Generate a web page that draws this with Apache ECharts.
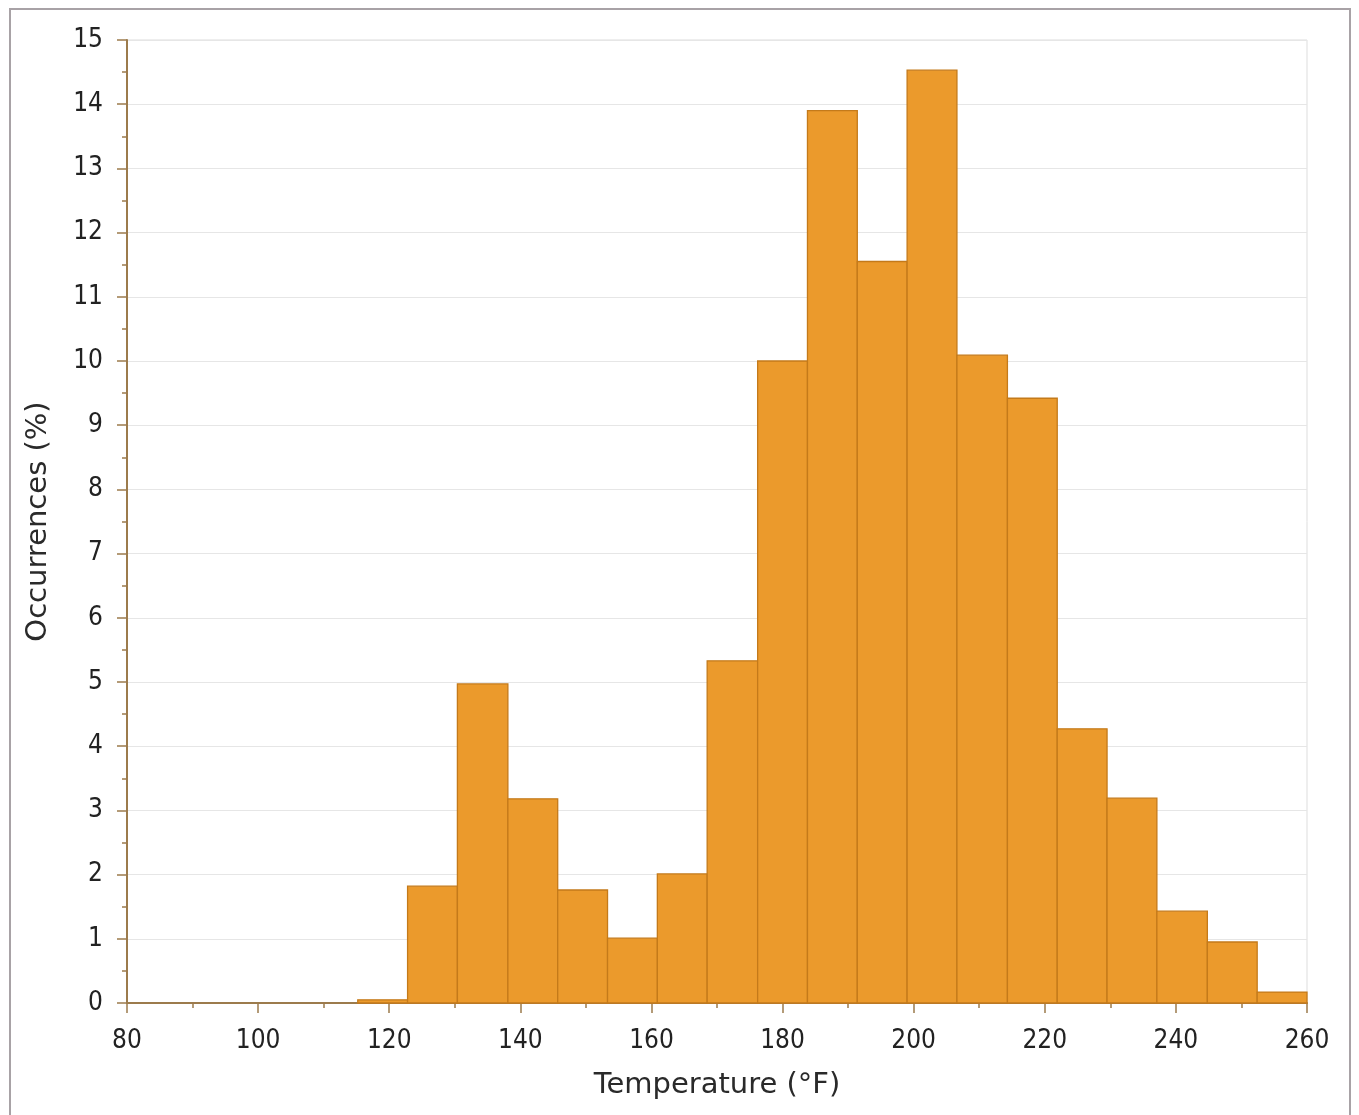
<!DOCTYPE html>
<html>
<head>
<meta charset="utf-8">
<script src="https://cdn.jsdelivr.net/npm/echarts@6/dist/echarts.min.js"></script>
<style>
html,body{margin:0;padding:0;background:#fff;}
#chart{width:1359px;height:1115px;}
</style>
</head>
<body>
<div id="chart"></div>
<script>
// Bin edges (°F)
var binEdges = [115.2, 122.8, 130.4, 138.1, 145.7, 153.3, 160.9, 168.5, 176.2, 183.8,
                191.4, 199.0, 206.6, 214.3, 221.9, 229.5, 237.1, 244.8, 252.4, 260.0];
// Occurrences (%) per bin
var occurrences = [0.05, 1.82, 4.97, 3.18, 1.76, 1.01, 2.01, 5.33, 10.0, 13.9,
                   11.55, 14.53, 10.09, 9.42, 4.27, 3.19, 1.43, 0.95, 0.17];
var xTicks = [80, 100, 120, 140, 160, 180, 200, 220, 240, 260];
var yTicks = [0,1,2,3,4,5,6,7,8,9,10,11,12,13,14,15];
var xTitle = 'Temperature (°F)';
var yTitle = 'Occurrences (%)';

var data = occurrences.map(function (v, i) { return [binEdges[i], binEdges[i + 1], v]; });

var chart = echarts.init(document.getElementById('chart'));
var tickFont = '"DejaVu Sans Condensed", "DejaVu Sans", sans-serif';
var axisColor = '#9c7b4c';

chart.setOption({
  animation: false,
  backgroundColor: '#ffffff',
  graphic: [{
    type: 'rect', silent: true, z: -1,
    shape: { x: 10, y: 9, width: 1340, height: 1120 },
    style: { fill: 'none', stroke: '#a8a2a6', lineWidth: 2 }
  }],
  grid: { left: 127, right: 52, top: 40, bottom: 112, show: true, borderColor: '#dddddd', borderWidth: 1 },
  xAxis: {
    type: 'value', min: xTicks[0], max: xTicks[xTicks.length - 1], interval: 20,
    name: xTitle, nameLocation: 'middle', nameGap: 68,
    nameTextStyle: { fontFamily: '"DejaVu Sans", sans-serif', fontSize: 29, color: '#2a2a2a' },
    axisLine: { lineStyle: { color: axisColor, width: 2 } },
    axisTick: { show: true, length: 10, lineStyle: { color: axisColor, width: 1.5 } },
    minorTick: { show: true, splitNumber: 2, length: 5, lineStyle: { color: axisColor, width: 1.5 } },
    axisLabel: { fontFamily: tickFont, fontSize: 26, color: '#222', margin: 25 },
    splitLine: { show: false }
  },
  yAxis: {
    type: 'value', min: yTicks[0], max: yTicks[yTicks.length - 1], interval: 1,
    name: yTitle, nameLocation: 'middle', nameGap: 74,
    nameTextStyle: { fontFamily: '"DejaVu Sans", sans-serif', fontSize: 29, color: '#2a2a2a' },
    axisLine: { show: true, lineStyle: { color: axisColor, width: 2 } },
    axisTick: { show: true, length: 10, lineStyle: { color: axisColor, width: 1.5 } },
    minorTick: { show: true, splitNumber: 2, length: 5, lineStyle: { color: axisColor, width: 1.5 } },
    axisLabel: { fontFamily: tickFont, fontSize: 26, color: '#222', margin: 24 },
    splitLine: { show: true, lineStyle: { color: '#e6e6e6', width: 1 } }
  },
  series: [{
    type: 'custom',
    data: data,
    encode: { x: [0, 1], y: 2 },
    renderItem: function (params, api) {
      var p0 = api.coord([api.value(0), api.value(2)]);
      var p1 = api.coord([api.value(1), 0]);
      return {
        type: 'rect',
        shape: { x: p0[0], y: p0[1], width: p1[0] - p0[0], height: p1[1] - p0[1] },
        style: { fill: '#eb9a2c', stroke: '#c47a1a', lineWidth: 1.3 }
      };
    }
  }]
});
</script>
</body>
</html>
